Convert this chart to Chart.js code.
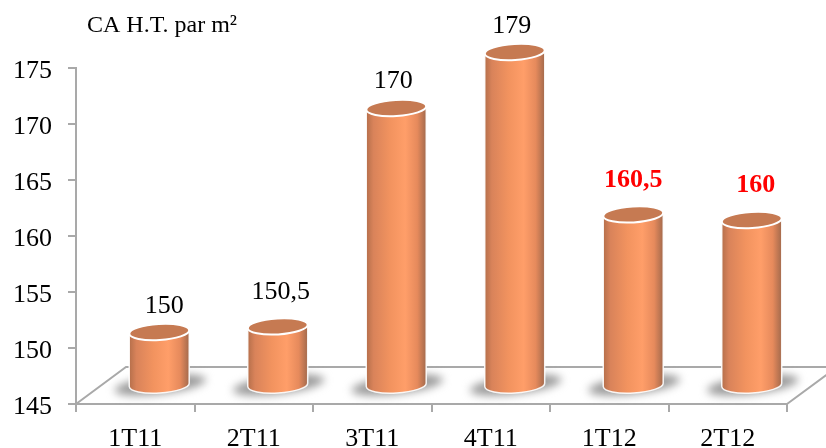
<!DOCTYPE html>
<html>
<head>
<meta charset="utf-8">
<title>CA H.T. par m²</title>
<script src="https://cdn.jsdelivr.net/npm/chart.js@4"></script>
<style>
  html, body { margin: 0; padding: 0; background: #fff; overflow: hidden; }
  canvas { display: block; }
</style>
</head>
<body>
<canvas id="caChart" width="826" height="448"></canvas>
<script>
// --- Data ---
const quarters = ['1T11', '2T11', '3T11', '4T11', '1T12', '2T12'];
const caValues = [150, 150.5, 170, 179, 160.5, 160];
const highlighted = ['1T12', '2T12'];
const chartUnit = 'CA H.T. par m²';
const AXIS_MIN = 145, AXIS_MAX = 175, AXIS_STEP = 5;

const SERIF = '"Liberation Serif", "Times New Roman", serif';
const AXIS_GREY = '#a9a9a9';

// Pseudo 3D: the bars stand in the middle of a tilted floor
const DEPTH_X = 24, DEPTH_Y = 16;
const FLOOR_X = 50, FLOOR_Y = 37;
const labelShift = [[5, -26], [3, -34], [-3, -27], [-3, -26], [0, -34], [4, -35]];

function bodyGradient(ctx, left, right) {
  const g = ctx.createLinearGradient(left, 0, right, 0);
  g.addColorStop(0, '#b56f4b');
  g.addColorStop(0.12, '#d9835a');
  g.addColorStop(0.4, '#f2935f');
  g.addColorStop(0.65, '#ff9e69');
  g.addColorStop(0.85, '#e68a5c');
  g.addColorStop(1, '#a2694c');
  return g;
}

const TILT = -0.06;

function drawCylinder(ctx, cx, top, bottom, halfW) {
  const ry = 8;
  const dy = Math.sin(TILT) * halfW;

  // body with rounded foot
  ctx.beginPath();
  ctx.moveTo(cx - halfW, top - dy);
  ctx.lineTo(cx - halfW, bottom - 2);
  ctx.ellipse(cx, bottom - 2, halfW, ry, TILT, Math.PI, 0, true);
  ctx.lineTo(cx + halfW, top + dy);
  ctx.closePath();
  ctx.fillStyle = bodyGradient(ctx, cx - halfW, cx + halfW);
  ctx.fill();
  ctx.strokeStyle = 'rgba(255,255,255,0.9)';
  ctx.lineWidth = 1.5;
  ctx.stroke();

  // lid
  ctx.beginPath();
  ctx.ellipse(cx, top, halfW, ry, TILT, 0, Math.PI * 2);
  ctx.fillStyle = '#c67a52';
  ctx.fill();
  ctx.strokeStyle = '#ffffff';
  ctx.lineWidth = 2;
  ctx.stroke();
}

function drawFootShadow(ctx, cx, bottom, halfW) {
  ctx.save();
  ctx.filter = 'blur(4px)';
  ctx.fillStyle = '#9a9a9a';
  ctx.beginPath();
  ctx.ellipse(cx + 1, bottom - 2, halfW + 16, 9, -0.12, 0, Math.PI * 2);
  ctx.fill();
  ctx.restore();
}

const cylinderPlugin = {
  id: 'cylinders',
  // floor drawn under the bars
  beforeDatasetsDraw(chart) {
    const { ctx, chartArea: { left, right, bottom } } = chart;
    ctx.save();
    ctx.strokeStyle = AXIS_GREY;
    ctx.lineWidth = 2;
    ctx.beginPath();
    ctx.moveTo(left, bottom);
    ctx.lineTo(left + FLOOR_X, bottom - FLOOR_Y);
    ctx.lineTo(right + FLOOR_X, bottom - FLOOR_Y);
    ctx.lineTo(right, bottom);
    ctx.stroke();
    ctx.restore();
  },
  afterDatasetsDraw(chart) {
    const { ctx, chartArea } = chart;
    const bars = chart.getDatasetMeta(0).data;
    ctx.save();
    bars.forEach(bar => {
      drawFootShadow(ctx, bar.x + DEPTH_X, bar.base - DEPTH_Y, bar.width / 2);
    });
    bars.forEach(bar => {
      // values above the axis maximum stop at the top of the scale
      const top = Math.max(bar.y, chartArea.top) - DEPTH_Y;
      drawCylinder(ctx, bar.x + DEPTH_X, top, bar.base - DEPTH_Y, bar.width / 2);
    });

    // value labels
    ctx.textAlign = 'center';
    ctx.textBaseline = 'middle';
    bars.forEach((bar, i) => {
      const hot = highlighted.includes(quarters[i]);
      const top = Math.max(bar.y, chartArea.top) - DEPTH_Y;
      ctx.font = (hot ? 'bold ' : '') + '26px ' + SERIF;
      ctx.fillStyle = hot ? '#ff0000' : '#000000';
      ctx.fillText(String(caValues[i]).replace('.', ','),
        bar.x + DEPTH_X + labelShift[i][0], top + labelShift[i][1]);
    });

    // unit caption
    ctx.textAlign = 'left';
    ctx.font = '24px ' + SERIF;
    ctx.fillStyle = '#000000';
    ctx.fillText(chartUnit, 87, 26);
    ctx.restore();
  }
};

new Chart(document.getElementById('caChart'), {
  type: 'bar',
  data: {
    labels: quarters,
    datasets: [{
      label: chartUnit,
      data: caValues,
      base: AXIS_MIN,
      backgroundColor: 'transparent',
      borderWidth: 0,
      barThickness: 60
    }]
  },
  options: {
    responsive: false,
    animation: false,
    layout: { padding: { top: 68, right: 39, left: 0, bottom: 0 } },
    plugins: {
      legend: { display: false },
      tooltip: { enabled: false }
    },
    scales: {
      x: {
        afterFit(scale) { scale.height = 44; },
        border: { color: AXIS_GREY, width: 2 },
        grid: { drawOnChartArea: false, color: AXIS_GREY, lineWidth: 2, tickLength: 8 },
        ticks: { color: '#000', padding: 12, maxRotation: 0, font: { family: SERIF, size: 26 } }
      },
      y: {
        min: AXIS_MIN,
        max: AXIS_MAX,
        afterFit(scale) { scale.width = 76; },
        border: { color: AXIS_GREY, width: 2 },
        grid: { drawOnChartArea: false, color: AXIS_GREY, lineWidth: 2, tickLength: 8 },
        ticks: {
          stepSize: AXIS_STEP,
          color: '#000',
          padding: 16,
          // empty first line pushes the number a few px under its tick
          callback: value => ['', String(value)],
          font: { family: SERIF, size: 26, lineHeight: '6px' }
        }
      }
    }
  },
  plugins: [cylinderPlugin]
});
</script>
</body>
</html>
